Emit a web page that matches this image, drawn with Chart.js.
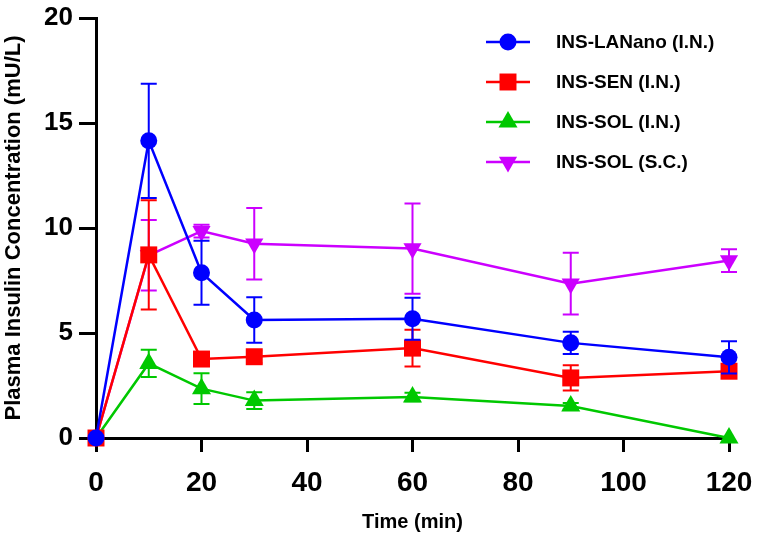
<!DOCTYPE html>
<html>
<head>
<meta charset="utf-8">
<script src="https://cdn.jsdelivr.net/npm/chart.js@4.4.1/dist/chart.umd.min.js"></script>
<style>
    html, body { margin: 0; padding: 0; background: #fff; }
    #wrap { width: 758px; height: 544px; position: relative; }
</style>
</head>
<body>
<div id="wrap"><canvas id="chartInsulin"></canvas></div>
<script>
// time points (min)
var timePoints = [0, 10, 20, 30, 60, 90, 120];

// mean plasma insulin (mU/L) and error
var lananoIN = [0, 14.15, 7.87, 5.62, 5.68, 4.53, 3.84];
var lananoINErr = [0, 2.72, 1.52, 1.08, 1.0, 0.53, 0.77];
var senIN = [0, 8.72, 3.76, 3.87, 4.28, 2.86, 3.18];
var senINErr = [0, 2.6, 0.3, 0.3, 0.87, 0.6, 0.3];
var solIN = [0, 3.55, 2.35, 1.78, 1.95, 1.52, 0];
var solINErr = [0, 0.65, 0.73, 0.4, 0.2, 0.15, 0];
var solSC = [0, 8.7, 9.85, 9.25, 9.02, 7.35, 8.45];
var solSCErr = [0, 1.68, 0.3, 1.7, 2.15, 1.47, 0.54];

var seriesLabels = ['INS-LANano (I.N.)', 'INS-SEN (I.N.)', 'INS-SOL (I.N.)', 'INS-SOL (S.C.)'];
var xTicks = [0, 20, 40, 60, 80, 100, 120];
var yTicks = [0, 5, 10, 15, 20];

const FONT = 'Arial, "Liberation Sans", sans-serif';

function toPoints(arr) {
    return arr.map(function (v, i) { return { x: timePoints[i], y: v }; });
}

// error bars, drawn under each dataset's own markers
const errorBars = {
    id: 'errorBars',
    beforeDatasetDraw: function (chart, args) {
        const ds = chart.data.datasets[args.index];
        if (!ds.errors) return;
        const ctx = chart.ctx;
        const xs = chart.scales.x, ys = chart.scales.y;
        ctx.save();
        ctx.strokeStyle = ds.borderColor;
        ctx.lineWidth = 2;
        for (let i = 0; i < ds.data.length; i++) {
            const e = ds.errors[i];
            if (!e) continue;
            const px = xs.getPixelForValue(ds.data[i].x);
            const top = ys.getPixelForValue(ds.data[i].y + e);
            const bot = ys.getPixelForValue(ds.data[i].y - e);
            ctx.beginPath();
            ctx.moveTo(px, top); ctx.lineTo(px, bot);
            ctx.moveTo(px - 8, top); ctx.lineTo(px + 8, top);
            ctx.moveTo(px - 8, bot); ctx.lineTo(px + 8, bot);
            ctx.stroke();
        }
        ctx.restore();
    }
};

// legend: line + marker + bold label
const lineLegend = {
    id: 'lineLegend',
    afterDraw: function (chart) {
        const ctx = chart.ctx;
        ctx.save();
        chart.data.datasets.forEach(function (ds, i) {
            const y = 42 + i * 40;
            ctx.strokeStyle = ds.borderColor;
            ctx.lineWidth = 2.5;
            ctx.beginPath();
            ctx.moveTo(486, y); ctx.lineTo(530, y);
            ctx.stroke();
            ctx.fillStyle = ds.backgroundColor;
            Chart.helpers.drawPoint(ctx, {
                pointStyle: ds.pointStyle,
                radius: ds.markerSize,
                rotation: ds.pointRotation || 0,
                borderWidth: 0
            }, 508, y);
            ctx.fillStyle = '#000';
            ctx.font = 'bold 19px ' + FONT;
            ctx.textBaseline = 'middle';
            ctx.textAlign = 'left';
            ctx.fillText(ds.label, 556, y + 1);
        });
        ctx.restore();
    }
};

function makeSet(label, data, err, color, style, radius, rot, hideFirst) {
    // first marker of some series sits hidden behind the others at the origin
    var radii = data.map(function (v, i) { return (hideFirst && i == 0) ? 0 : radius; });
    return {
        label: label,
        data: toPoints(data),
        errors: err,
        borderColor: color,
        backgroundColor: color,
        borderWidth: 2.5,
        pointStyle: style,
        pointRadius: radii,
        markerSize: radius,
        pointRotation: rot || 0,
        pointBorderWidth: 0,
        pointHoverRadius: radii,
        tension: 0,
        fill: false,
        clip: false
    };
}

const ctx = document.getElementById('chartInsulin').getContext('2d');
const insulinChart = new Chart(ctx, {
    type: 'line',
    data: {
        datasets: [
            makeSet(seriesLabels[0], lananoIN, lananoINErr, '#0000ff', 'circle', 8.5),
            makeSet(seriesLabels[1], senIN, senINErr, '#ff0000', 'rect', 12),
            makeSet(seriesLabels[2], solIN, solINErr, '#00c800', 'triangle', 11, 0, true),
            makeSet(seriesLabels[3], solSC, solSCErr, '#cc00ff', 'triangle', 10.5, 180, true)
        ]
    },
    plugins: [errorBars, lineLegend],
    options: {
        responsive: true,
        maintainAspectRatio: false,
        animation: false,
        layout: { autoPadding: false, padding: { top: 18, right: 29, left: 0, bottom: 0 } },
        plugins: {
            legend: { display: false },
            tooltip: { enabled: false }
        },
        scales: {
            x: {
                type: 'linear',
                min: 0,
                max: 120,
                afterFit: function (s) {
                    s.height = 106;
                    s.paddingLeft = 0;
                    s.paddingRight = 0;
                },
                afterBuildTicks: function (s) { s.ticks = xTicks.map(function (v) { return { value: v }; }); },
                border: { display: true, color: '#000', width: 3 },
                grid: { drawOnChartArea: false, drawTicks: true, tickLength: 14, tickWidth: 3, tickColor: '#000' },
                ticks: { color: '#000', padding: 14, font: { family: FONT, size: 28, weight: 'bold' } },
                title: {
                    display: true,
                    text: 'Time (min)',
                    color: '#000',
                    padding: { top: 0, bottom: 10 },
                    font: { family: FONT, size: 20, weight: 'bold' }
                }
            },
            y: {
                min: 0,
                max: 20,
                afterFit: function (s) {
                    s.width = 96;
                    s.paddingTop = 0;
                    s.paddingBottom = 0;
                },
                afterBuildTicks: function (s) { s.ticks = yTicks.map(function (v) { return { value: v }; }); },
                border: { display: true, color: '#000', width: 3 },
                grid: { drawOnChartArea: false, drawTicks: true, tickLength: 17, tickWidth: 3, tickColor: '#000' },
                ticks: { color: '#000', padding: 6, font: { family: FONT, size: 26, weight: 'bold' } },
                title: {
                    display: true,
                    text: 'Plasma Insulin Concentration (mU/L)',
                    color: '#000',
                    padding: { top: 1, bottom: 0 },
                    font: { family: FONT, size: 22, weight: 'bold' }
                }
            }
        }
    }
});
</script>
</body>
</html>
